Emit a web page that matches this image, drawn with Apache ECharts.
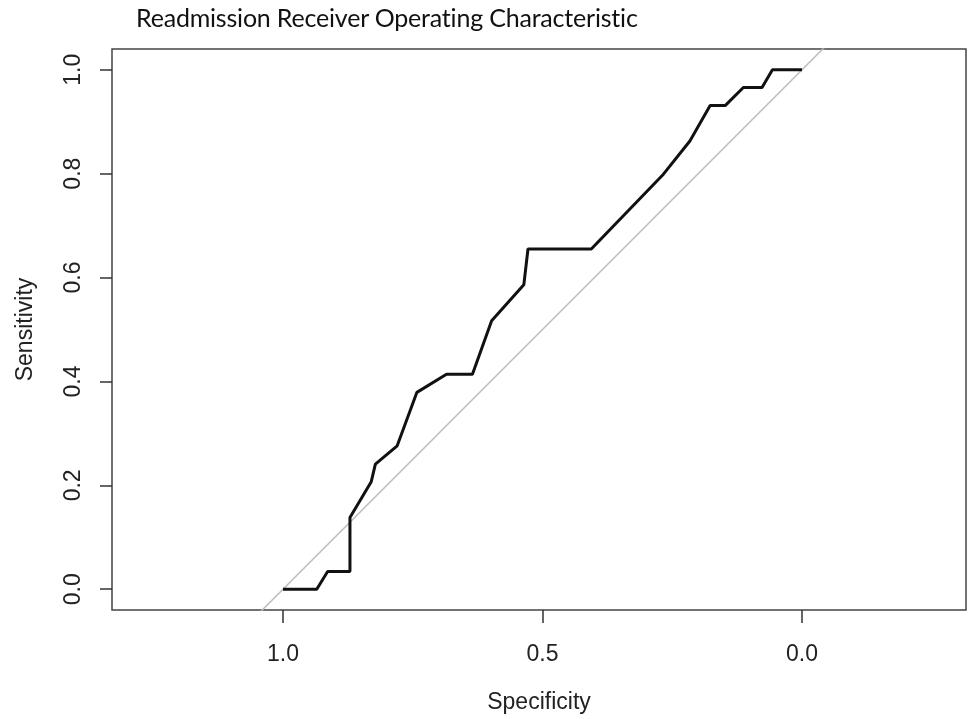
<!DOCTYPE html>
<html>
<head>
<meta charset="utf-8">
<script src="https://cdn.jsdelivr.net/npm/echarts@6/dist/echarts.min.js"></script>
<style>
  html, body { margin: 0; padding: 0; background: #fff; }
  #main { width: 979px; height: 719px; position: relative; }
  .title { position: absolute; left: 136px; top: 2px; font-family: Lato, sans-serif; font-size: 25px; color: #111; letter-spacing: -0.2px; }
</style>
</head>
<body>
<div id="main"></div>
<script>
// ROC curve points (specificity, sensitivity)
var specificity = [1.0, 0.935, 0.914, 0.871, 0.871, 0.830, 0.822, 0.780, 0.742, 0.685, 0.635, 0.598, 0.536, 0.528, 0.406, 0.267, 0.216, 0.177, 0.148, 0.113, 0.077, 0.057, 0.0];
var sensitivity = [0.0, 0.0, 0.034, 0.034, 0.138, 0.207, 0.241, 0.276, 0.379, 0.414, 0.414, 0.517, 0.586, 0.655, 0.655, 0.799, 0.863, 0.931, 0.931, 0.966, 0.966, 1.0, 1.0];
// chance diagonal (clipped by the plot box)
var diagSpec = [1.5, -0.5];
var diagSens = [-0.5, 1.5];
var xTicks = [1.0, 0.5, 0.0];
var yTicks = [0.0, 0.2, 0.4, 0.6, 0.8, 1.0];

var rocData = specificity.map(function (s, i) { return [s, sensitivity[i]]; });
var diagData = diagSpec.map(function (s, i) { return [s, diagSens[i]]; });

var chart = echarts.init(document.getElementById('main'));
var font = 'Liberation Sans, Arial, sans-serif';
chart.setOption({
  animation: false,
  grid: {
    left: 112, right: 13, top: 49, bottom: 109,
    show: true, borderColor: '#444', borderWidth: 1.5, backgroundColor: 'transparent'
  },
  xAxis: {
    type: 'value', inverse: true, min: -0.316, max: 1.3295,
    splitLine: { show: false },
    axisLine: { show: false, onZero: false },
    axisTick: { show: true, customValues: xTicks, length: 13, lineStyle: { color: '#333', width: 1.5 } },
    axisLabel: { customValues: xTicks, margin: 33, fontFamily: font, fontSize: 23, color: '#222',
      formatter: function (v) { return v.toFixed(1); } },
    name: 'Specificity', nameLocation: 'middle', nameGap: 81,
    nameTextStyle: { fontFamily: font, fontSize: 23, color: '#222' }
  },
  yAxis: {
    type: 'value', min: -0.04, max: 1.04,
    splitLine: { show: false },
    axisLine: { show: false, onZero: false },
    axisTick: { show: true, customValues: yTicks, length: 12, lineStyle: { color: '#333', width: 1.5 } },
    axisLabel: { customValues: yTicks, margin: 27, rotate: 90, fontFamily: font, fontSize: 23, color: '#222',
      formatter: function (v) { return v.toFixed(1); } },
    name: 'Sensitivity', nameLocation: 'middle', nameGap: 75,
    nameTextStyle: { fontFamily: font, fontSize: 23, color: '#222' }
  },
  series: [
    {
      type: 'line', data: diagData, symbol: 'none', clip: true,
      lineStyle: { color: '#bdbdbd', width: 1.5 }
    },
    {
      type: 'line', data: rocData, symbol: 'none', clip: true,
      lineStyle: { color: '#111', width: 3 }
    }
  ]
});
</script>
<div class="title">Readmission Receiver Operating Characteristic</div>
</body>
</html>
